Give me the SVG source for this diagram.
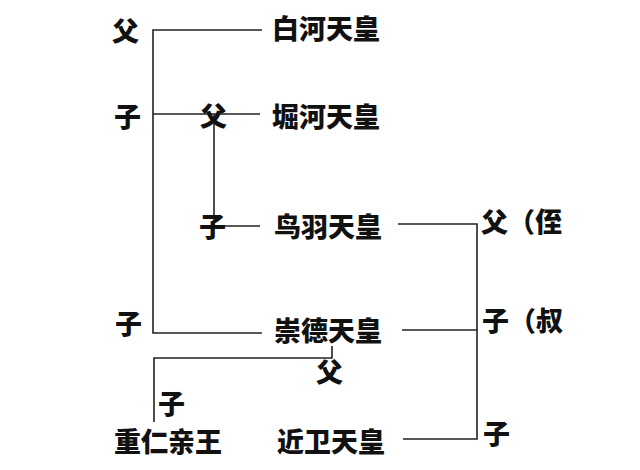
<svg xmlns="http://www.w3.org/2000/svg" width="640" height="470" viewBox="0 0 640 470">
<style>
.t{font-family:"Noto Sans CJK SC","Noto Sans CJK JP",sans-serif;font-weight:900;font-size:27px;fill:#111}
.c{stroke:#222;stroke-width:1.6;fill:none}
</style>
<rect width="640" height="470" fill="#fff"/>
<g id="connectors">
<polyline class="c" points="262,30 153,30 153,333 262,333"/>
<line class="c" x1="153" y1="114" x2="260" y2="114"/>
<line class="c" x1="214" y1="114" x2="214" y2="226"/>
<line class="c" x1="223" y1="226" x2="260" y2="226"/>
<polyline class="c" points="398,224 477,224 477,439 403,439"/>
<line class="c" x1="402" y1="330" x2="477" y2="330"/>
<polyline class="c" points="332,346 332,358 154,358 154,422"/>
</g>
<g id="baihe"><text class="t" x="272" y="39">白河天皇</text></g>
<g id="horikawa"><text class="t" x="272" y="127">堀河天皇</text></g>
<g id="toba"><text class="t" x="274" y="237">鸟羽天皇</text></g>
<g id="sutoku"><text class="t" x="274" y="341">崇德天皇</text></g>
<g id="shigehito"><text class="t" x="114" y="452">重仁亲王</text></g>
<g id="konoe"><text class="t" x="277" y="452">近卫天皇</text></g>
<g id="labels">
<text class="t" x="112" y="41">父</text>
<text class="t" x="114" y="127">子</text>
<text class="t" x="200" y="126">父</text>
<text class="t" x="199" y="237">子</text>
<text class="t" x="115" y="334">子</text>
<text class="t" x="316" y="382">父</text>
<text class="t" x="158" y="414">子</text>
<text class="t" x="481" y="232">父（侄</text>
<text class="t" x="482" y="331">子（叔</text>
<text class="t" x="483" y="444">子</text>
</g>
</svg>
